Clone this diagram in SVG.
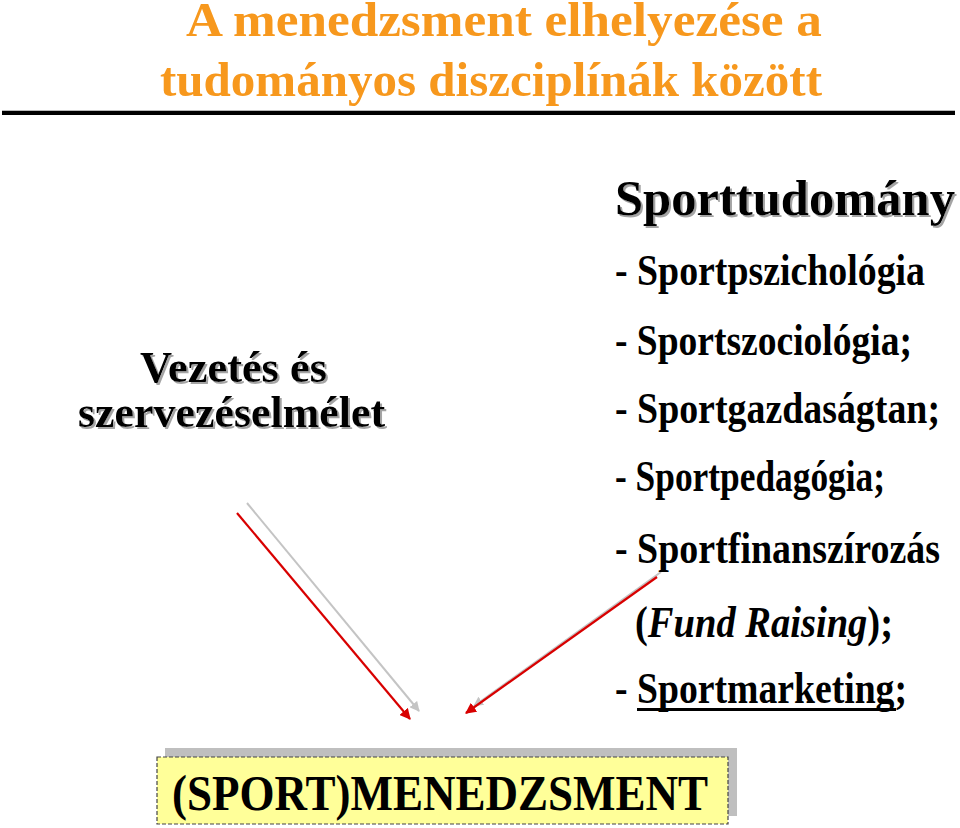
<svg xmlns="http://www.w3.org/2000/svg" width="960" height="828" viewBox="0 0 960 828">
<style>
.t{font-family:"Liberation Serif","Times New Roman",serif;font-weight:bold;}
.title{fill:#F7981D;font-size:46px;}
.item{fill:#000;font-size:38px;}
.left{fill:#000;font-size:44px;}
.big{fill:#000;font-size:50px;}
.red{stroke:#D80000;stroke-width:2.2;fill:none;}
.gray{stroke:#C4C4C4;stroke-width:2;fill:none;}
</style>
<defs>
<filter id="sh" x="-5%" y="-20%" width="110%" height="140%">
<feDropShadow dx="2" dy="2" stdDeviation="0.6" flood-color="#9a9a9a" flood-opacity="0.9"/>
</filter>
<marker id="ar" viewBox="0 0 10 10" refX="9" refY="5" markerWidth="5" markerHeight="5" orient="auto" markerUnits="strokeWidth">
<path d="M0,0 L10,5 L0,10 z" fill="#D80000"/>
</marker>
<marker id="ag" viewBox="0 0 10 10" refX="9" refY="5" markerWidth="5" markerHeight="5" orient="auto" markerUnits="strokeWidth">
<path d="M0,0 L10,5 L0,10 z" fill="#C4C4C4"/>
</marker>
</defs>
<rect width="960" height="828" fill="#fff"/>
<g id="title">
<text class="t title" transform="translate(186,36) scale(1,1.04)" x="0" y="0" textLength="636" lengthAdjust="spacingAndGlyphs">A menedzsment elhelyezése a</text>
<text class="t title" transform="translate(160,96) scale(1,1.04)" x="0" y="0" textLength="662" lengthAdjust="spacingAndGlyphs">tudományos diszciplínák között</text>
<line x1="2" y1="110.5" x2="955" y2="110.5" stroke="#bbb" stroke-width="1"/>
<line x1="2" y1="113" x2="955" y2="113" stroke="#000" stroke-width="4"/>
</g>
<g id="connectors">
<line class="gray" x1="247" y1="503" x2="419" y2="711" marker-end="url(#ag)"/>
<line class="red" x1="237" y1="513" x2="410" y2="719" marker-end="url(#ar)"/>
<line class="gray" x1="661" y1="572" x2="474" y2="706" marker-end="url(#ag)"/>
<line class="red" x1="657" y1="577" x2="466" y2="713" marker-end="url(#ar)"/>
</g>
<g id="node-vezetes" filter="url(#sh)">
<text class="t left" x="140" y="382" textLength="187" lengthAdjust="spacingAndGlyphs">Vezetés és</text>
<text class="t left" x="78" y="427" textLength="307" lengthAdjust="spacingAndGlyphs">szervezéselmélet</text>
</g>
<g id="node-sporttudomany">
<text class="t big" x="615" y="215" textLength="340" lengthAdjust="spacingAndGlyphs" filter="url(#sh)">Sporttudomány</text>
<text class="t item" transform="translate(615,285) scale(1,1.15)" x="0" y="0" textLength="310" lengthAdjust="spacingAndGlyphs">- Sportpszichológia</text>
<text class="t item" transform="translate(615,355) scale(1,1.15)" x="0" y="0" textLength="297" lengthAdjust="spacingAndGlyphs">- Sportszociológia;</text>
<text class="t item" transform="translate(615,423) scale(1,1.15)" x="0" y="0" textLength="325" lengthAdjust="spacingAndGlyphs">- Sportgazdaságtan;</text>
<text class="t item" transform="translate(615,491) scale(1,1.15)" x="0" y="0" textLength="270" lengthAdjust="spacingAndGlyphs">- Sportpedagógia;</text>
<text class="t item" transform="translate(615,563) scale(1,1.15)" x="0" y="0" textLength="325" lengthAdjust="spacingAndGlyphs">- Sportfinanszírozás</text>
<text class="t item" transform="translate(635,637) scale(1,1.15)" x="0" y="0" textLength="258" lengthAdjust="spacingAndGlyphs">(<tspan font-style="italic">Fund Raising</tspan>);</text>
<text class="t item" transform="translate(615,703) scale(1,1.15)" x="0" y="0" textLength="292" lengthAdjust="spacingAndGlyphs">- Sportmarketing;</text>
<line x1="637" y1="709.5" x2="896" y2="709.5" stroke="#000" stroke-width="3"/>
</g>
<g id="node-menedzsment">
<rect x="165" y="748" width="572" height="68" fill="#BFBFBF"/>
<rect x="157" y="757" width="571" height="67" fill="#FFFF99" stroke="#444" stroke-width="1.2" stroke-dasharray="4,2"/>
<text class="t" x="172" y="810" font-size="50" textLength="536" lengthAdjust="spacingAndGlyphs" fill="#000">(SPORT)MENEDZSMENT</text>
</g>
</svg>
